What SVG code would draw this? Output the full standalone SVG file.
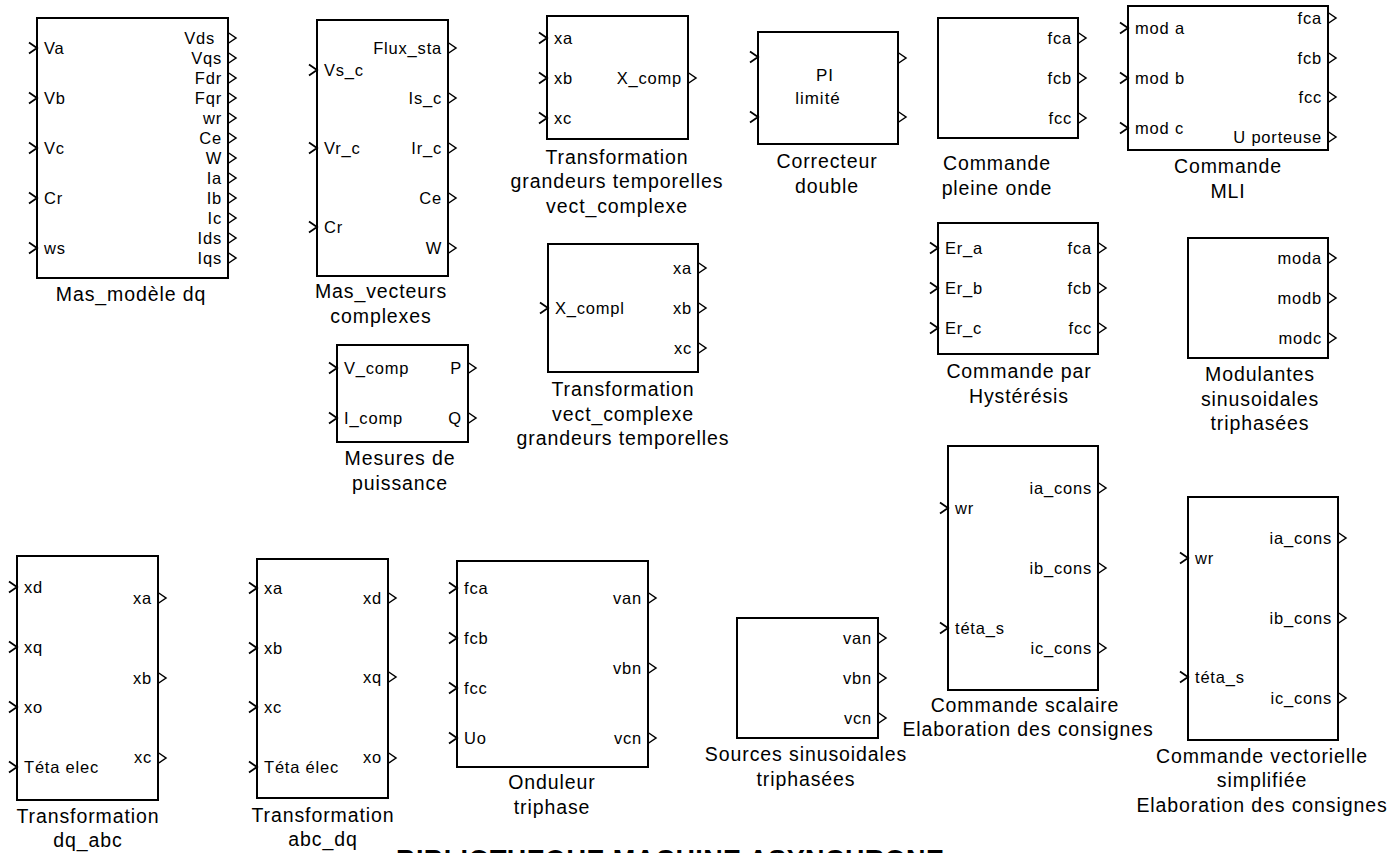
<svg xmlns="http://www.w3.org/2000/svg" xmlns:xlink="http://www.w3.org/1999/xlink" width="1393" height="853" viewBox="0 0 1393 853">
<style>
.blk{fill:#fff;stroke:#000;stroke-width:2}
.ci{fill:none;stroke:#000;stroke-width:1.8}
.co{fill:none;stroke:#000;stroke-width:1.5}
text{font-family:"Liberation Sans",Arial,sans-serif;fill:#000}
.pl{font-size:16.5px;letter-spacing:0.8px}
.pr{font-size:16.5px;letter-spacing:0.8px;text-anchor:end}
.pc{font-size:17px;letter-spacing:1px;text-anchor:middle}
.lb{font-size:19.5px;letter-spacing:0.9px;text-anchor:middle}
.title{font-size:27px;font-weight:bold;letter-spacing:0.4px}
</style>
<defs>
<path id="ci" d="M-8,-5.5 L0,0 L-8,5.5"/>
<path id="co" d="M0,-5.5 L8,0 L0,5.5"/>
</defs>
<rect width="1393" height="853" fill="#fff"/>
<g id="connectors"/>

<g id="mas_modele_dq">
<rect class="blk" x="37" y="18" width="191" height="260"/>
<use href="#ci" class="ci" x="37" y="48"/><use href="#ci" class="ci" x="37" y="98"/><use href="#ci" class="ci" x="37" y="148"/><use href="#ci" class="ci" x="37" y="198"/><use href="#ci" class="ci" x="37" y="248"/>
<text class="pl" x="44" y="54">Va</text><text class="pl" x="44" y="104">Vb</text><text class="pl" x="44" y="154">Vc</text><text class="pl" x="44" y="204">Cr</text><text class="pl" x="44" y="254">ws</text>
<use href="#co" class="co" x="228" y="38"/><use href="#co" class="co" x="228" y="58"/><use href="#co" class="co" x="228" y="78"/><use href="#co" class="co" x="228" y="98"/><use href="#co" class="co" x="228" y="118"/><use href="#co" class="co" x="228" y="138"/><use href="#co" class="co" x="228" y="158"/><use href="#co" class="co" x="228" y="178"/><use href="#co" class="co" x="228" y="198"/><use href="#co" class="co" x="228" y="218"/><use href="#co" class="co" x="228" y="238"/><use href="#co" class="co" x="228" y="258"/>
<text class="pr" x="215" y="44">Vds</text><text class="pr" x="222" y="64">Vqs</text><text class="pr" x="222" y="84">Fdr</text><text class="pr" x="222" y="104">Fqr</text><text class="pr" x="222" y="124">wr</text><text class="pr" x="222" y="144">Ce</text><text class="pr" x="222" y="164">W</text><text class="pr" x="222" y="184">Ia</text><text class="pr" x="222" y="204">Ib</text><text class="pr" x="222" y="224">Ic</text><text class="pr" x="222" y="244">Ids</text><text class="pr" x="222" y="264">Iqs</text>
<text class="lb" x="131" y="301">Mas_modèle dq</text>
</g>

<g id="mas_vecteurs">
<rect class="blk" x="317" y="20" width="131" height="256"/>
<use href="#ci" class="ci" x="317" y="70"/><use href="#ci" class="ci" x="317" y="148"/><use href="#ci" class="ci" x="317" y="227"/>
<text class="pl" x="324" y="76">Vs_c</text><text class="pl" x="324" y="154">Vr_c</text><text class="pl" x="324" y="233">Cr</text>
<use href="#co" class="co" x="448" y="48"/><use href="#co" class="co" x="448" y="98"/><use href="#co" class="co" x="448" y="148"/><use href="#co" class="co" x="448" y="198"/><use href="#co" class="co" x="448" y="248"/>
<text class="pr" x="442" y="54">Flux_sta</text><text class="pr" x="442" y="104">Is_c</text><text class="pr" x="442" y="154">Ir_c</text><text class="pr" x="442" y="204">Ce</text><text class="pr" x="442" y="254">W</text>
<text class="lb" x="381" y="298">Mas_vecteurs</text>
<text class="lb" x="381" y="322.5">complexes</text>
</g>

<g id="transfo_temp_vect">
<rect class="blk" x="547" y="16" width="141" height="123"/>
<use href="#ci" class="ci" x="547" y="38"/><use href="#ci" class="ci" x="547" y="78"/><use href="#ci" class="ci" x="547" y="118"/>
<text class="pl" x="554" y="44">xa</text><text class="pl" x="554" y="84">xb</text><text class="pl" x="554" y="124">xc</text>
<use href="#co" class="co" x="688" y="78"/>
<text class="pr" x="682" y="84">X_comp</text>
<text class="lb" x="617" y="163.5">Transformation</text>
<text class="lb" x="617" y="188">grandeurs temporelles</text>
<text class="lb" x="617" y="212.5">vect_complexe</text>
</g>

<g id="correcteur_double">
<rect class="blk" x="758" y="32" width="140" height="112"/>
<use href="#ci" class="ci" x="758" y="57"/><use href="#ci" class="ci" x="758" y="117"/>
<use href="#co" class="co" x="898" y="58"/><use href="#co" class="co" x="898" y="117"/>
<text class="pc" x="825" y="81">PI</text>
<text class="pc" x="818" y="104">limité</text>
<text class="lb" x="827" y="168">Correcteur</text>
<text class="lb" x="827" y="192.5">double</text>
</g>

<g id="commande_pleine_onde">
<rect class="blk" x="938" y="18" width="140" height="120"/>
<use href="#co" class="co" x="1078" y="38"/><use href="#co" class="co" x="1078" y="78"/><use href="#co" class="co" x="1078" y="118"/>
<text class="pr" x="1072" y="44">fca</text><text class="pr" x="1072" y="84">fcb</text><text class="pr" x="1072" y="124">fcc</text>
<text class="lb" x="997" y="170">Commande</text>
<text class="lb" x="997" y="194.5">pleine onde</text>
</g>

<g id="commande_mli">
<rect class="blk" x="1128" y="6" width="200" height="144"/>
<use href="#ci" class="ci" x="1128" y="28"/><use href="#ci" class="ci" x="1128" y="78"/><use href="#ci" class="ci" x="1128" y="128"/>
<text class="pl" x="1135" y="34">mod a</text><text class="pl" x="1135" y="84">mod b</text><text class="pl" x="1135" y="134">mod c</text>
<use href="#co" class="co" x="1328" y="18"/><use href="#co" class="co" x="1328" y="58"/><use href="#co" class="co" x="1328" y="97"/><use href="#co" class="co" x="1328" y="137"/>
<text class="pr" x="1322" y="24">fca</text><text class="pr" x="1322" y="64">fcb</text><text class="pr" x="1322" y="103">fcc</text><text class="pr" x="1322" y="143">U porteuse</text>
<text class="lb" x="1228" y="173">Commande</text>
<text class="lb" x="1228" y="197.5">MLI</text>
</g>

<g id="transfo_vect_temp">
<rect class="blk" x="548" y="244" width="150" height="128"/>
<use href="#ci" class="ci" x="548" y="308"/>
<text class="pl" x="555" y="314">X_compl</text>
<use href="#co" class="co" x="698" y="268"/><use href="#co" class="co" x="698" y="308"/><use href="#co" class="co" x="698" y="348"/>
<text class="pr" x="692" y="274">xa</text><text class="pr" x="692" y="314">xb</text><text class="pr" x="692" y="354">xc</text>
<text class="lb" x="623" y="396">Transformation</text>
<text class="lb" x="623" y="420.5">vect_complexe</text>
<text class="lb" x="623" y="445">grandeurs temporelles</text>
</g>

<g id="mesures_puissance">
<rect class="blk" x="337" y="345" width="131" height="97"/>
<use href="#ci" class="ci" x="337" y="368"/><use href="#ci" class="ci" x="337" y="418"/>
<text class="pl" x="344" y="374">V_comp</text><text class="pl" x="344" y="424">I_comp</text>
<use href="#co" class="co" x="468" y="368"/><use href="#co" class="co" x="468" y="418"/>
<text class="pr" x="462" y="374">P</text><text class="pr" x="462" y="424">Q</text>
<text class="lb" x="400" y="465">Mesures de</text>
<text class="lb" x="400" y="489.5">puissance</text>
</g>

<g id="commande_hysteresis">
<rect class="blk" x="938" y="223" width="160" height="131"/>
<use href="#ci" class="ci" x="938" y="248"/><use href="#ci" class="ci" x="938" y="288"/><use href="#ci" class="ci" x="938" y="328"/>
<text class="pl" x="945" y="254">Er_a</text><text class="pl" x="945" y="294">Er_b</text><text class="pl" x="945" y="334">Er_c</text>
<use href="#co" class="co" x="1098" y="248"/><use href="#co" class="co" x="1098" y="288"/><use href="#co" class="co" x="1098" y="328"/>
<text class="pr" x="1092" y="254">fca</text><text class="pr" x="1092" y="294">fcb</text><text class="pr" x="1092" y="334">fcc</text>
<text class="lb" x="1019" y="378">Commande par</text>
<text class="lb" x="1019" y="402.5">Hystérésis</text>
</g>

<g id="modulantes">
<rect class="blk" x="1188" y="238" width="140" height="120"/>
<use href="#co" class="co" x="1328" y="258"/><use href="#co" class="co" x="1328" y="298"/><use href="#co" class="co" x="1328" y="338"/>
<text class="pr" x="1322" y="264">moda</text><text class="pr" x="1322" y="304">modb</text><text class="pr" x="1322" y="344">modc</text>
<text class="lb" x="1260" y="381">Modulantes</text>
<text class="lb" x="1260" y="405.5">sinusoidales</text>
<text class="lb" x="1260" y="430">triphasées</text>
</g>

<g id="transfo_dq_abc">
<rect class="blk" x="17" y="556" width="141" height="244"/>
<use href="#ci" class="ci" x="17" y="587"/><use href="#ci" class="ci" x="17" y="647"/><use href="#ci" class="ci" x="17" y="707"/><use href="#ci" class="ci" x="17" y="767"/>
<text class="pl" x="24" y="593">xd</text><text class="pl" x="24" y="653">xq</text><text class="pl" x="24" y="713">xo</text><text class="pl" x="24" y="773">Téta elec</text>
<use href="#co" class="co" x="158" y="598"/><use href="#co" class="co" x="158" y="678"/><use href="#co" class="co" x="158" y="758"/>
<text class="pr" x="152" y="604">xa</text><text class="pr" x="152" y="684">xb</text><text class="pr" x="152" y="763">xc</text>
<text class="lb" x="88" y="823">Transformation</text>
<text class="lb" x="88" y="847">dq_abc</text>
</g>

<g id="transfo_abc_dq">
<rect class="blk" x="257" y="559" width="131" height="239"/>
<use href="#ci" class="ci" x="257" y="588"/><use href="#ci" class="ci" x="257" y="648"/><use href="#ci" class="ci" x="257" y="707"/><use href="#ci" class="ci" x="257" y="767"/>
<text class="pl" x="264" y="594">xa</text><text class="pl" x="264" y="654">xb</text><text class="pl" x="264" y="713">xc</text><text class="pl" x="264" y="773">Téta élec</text>
<use href="#co" class="co" x="388" y="598"/><use href="#co" class="co" x="388" y="677"/><use href="#co" class="co" x="388" y="758"/>
<text class="pr" x="382" y="604">xd</text><text class="pr" x="382" y="683">xq</text><text class="pr" x="382" y="763">xo</text>
<text class="lb" x="323" y="821.5">Transformation</text>
<text class="lb" x="323" y="846">abc_dq</text>
</g>

<g id="onduleur">
<rect class="blk" x="457" y="561" width="191" height="206"/>
<use href="#ci" class="ci" x="457" y="588"/><use href="#ci" class="ci" x="457" y="638"/><use href="#ci" class="ci" x="457" y="688"/><use href="#ci" class="ci" x="457" y="738"/>
<text class="pl" x="464" y="594">fca</text><text class="pl" x="464" y="644">fcb</text><text class="pl" x="464" y="694">fcc</text><text class="pl" x="464" y="744">Uo</text>
<use href="#co" class="co" x="648" y="598"/><use href="#co" class="co" x="648" y="668"/><use href="#co" class="co" x="648" y="738"/>
<text class="pr" x="642" y="604">van</text><text class="pr" x="642" y="674">vbn</text><text class="pr" x="642" y="744">vcn</text>
<text class="lb" x="552" y="789">Onduleur</text>
<text class="lb" x="552" y="813.5">triphase</text>
</g>

<g id="sources_sinus">
<rect class="blk" x="737" y="618" width="141" height="120"/>
<use href="#co" class="co" x="878" y="638"/><use href="#co" class="co" x="878" y="678"/><use href="#co" class="co" x="878" y="718"/>
<text class="pr" x="872" y="644">van</text><text class="pr" x="872" y="684">vbn</text><text class="pr" x="872" y="724">vcn</text>
<text class="lb" x="806" y="761">Sources sinusoidales</text>
<text class="lb" x="806" y="785.5">triphasées</text>
</g>

<g id="commande_scalaire">
<rect class="blk" x="948" y="446" width="150" height="244"/>
<use href="#ci" class="ci" x="948" y="508"/><use href="#ci" class="ci" x="948" y="628"/>
<text class="pl" x="955" y="514">wr</text><text class="pl" x="955" y="634">téta_s</text>
<use href="#co" class="co" x="1098" y="488"/><use href="#co" class="co" x="1098" y="568"/><use href="#co" class="co" x="1098" y="648"/>
<text class="pr" x="1092" y="494">ia_cons</text><text class="pr" x="1092" y="574">ib_cons</text><text class="pr" x="1092" y="654">ic_cons</text>
<text class="lb" x="1025" y="711.5">Commande scalaire</text>
<text class="lb" x="1028" y="736">Elaboration des consignes</text>
</g>

<g id="commande_vectorielle">
<rect class="blk" x="1188" y="497" width="150" height="243"/>
<use href="#ci" class="ci" x="1188" y="558"/><use href="#ci" class="ci" x="1188" y="677"/>
<text class="pl" x="1195" y="564">wr</text><text class="pl" x="1195" y="683">téta_s</text>
<use href="#co" class="co" x="1338" y="538"/><use href="#co" class="co" x="1338" y="618"/><use href="#co" class="co" x="1338" y="698"/>
<text class="pr" x="1332" y="544">ia_cons</text><text class="pr" x="1332" y="624">ib_cons</text><text class="pr" x="1332" y="704">ic_cons</text>
<text class="lb" x="1262" y="762.5">Commande vectorielle</text>
<text class="lb" x="1262" y="787">simplifiée</text>
<text class="lb" x="1262" y="811.5">Elaboration des consignes</text>
</g>

<g id="title">
<text class="title" x="396" y="869">BIBLIOTHEQUE MACHINE ASYNCHRONE</text>
</g>
</svg>
